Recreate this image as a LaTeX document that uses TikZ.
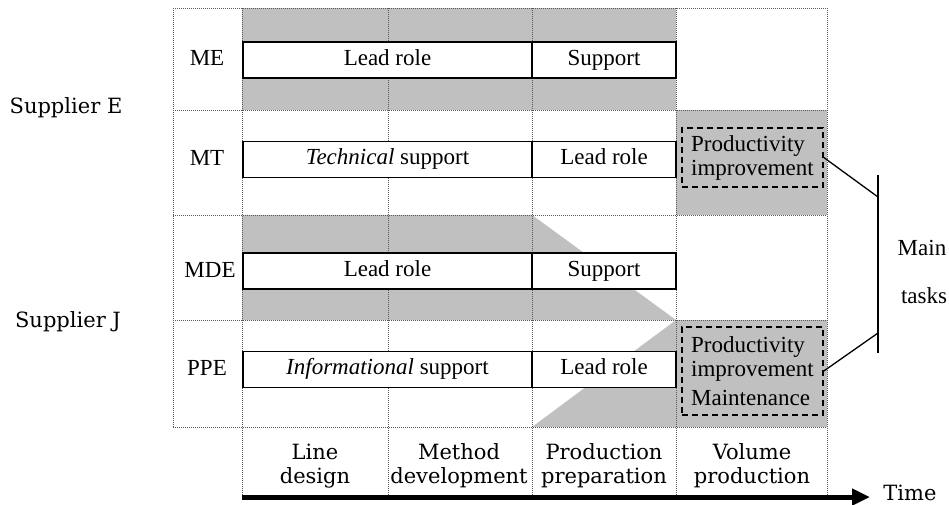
\documentclass[tikz,border=0pt]{standalone}
\usepackage{fontspec}
\setmainfont{Liberation Serif}
\newfontfamily\centuryfont{DejaVu Serif}
\usetikzlibrary{arrows.meta}

\begin{document}
\begin{tikzpicture}[x=1pt, y=-1pt,
    gridline/.style={black!65, densely dotted, line width=1pt},
    rolebox/.style={draw, fill=white, line width=1.7pt, minimum height=36pt, inner sep=0pt, text height=15pt, text depth=5pt, font=\fontsize{23}{24}\selectfont},
    taskbox/.style={draw, dashed, dash pattern=on 6pt off 4pt, line width=1.6pt, align=left, inner sep=0pt, minimum width=141pt, font=\fontsize{23}{24}\selectfont},
    rowlabel/.style={font=\fontsize{23}{24}\selectfont},
    phase/.style={font=\centuryfont\fontsize{21}{24}\selectfont, align=center}]
    % Define custom colors
    \definecolor{cellgray}{RGB}{192,192,192}

    \useasboundingbox (0,0) rectangle (949,504);

    % Shaded areas
    \fill[cellgray] (242,8) rectangle (676,110);
    \fill[cellgray] (676,110) rectangle (827,215);
    \fill[cellgray] (242,215) -- (532,215) -- (676,320) -- (242,320) -- cycle;
    \fill[cellgray] (532,427) -- (676,320) -- (827,320) -- (827,427) -- cycle;

    % Dotted grid
    \foreach \y in {8,110,215,320,427}
        \draw[gridline] (173,\y) -- (827,\y);
    \draw[gridline] (173,8) -- (173,427);
    \foreach \x in {242,388,532,676,827}
        \draw[gridline] (\x,8) -- (\x,497);

    % ME
    \node[rowlabel] (me) at (207,58) {ME};
    \node[rolebox, minimum width=289pt] (melead) at (387.5,60) {Lead role};
    \node[rolebox, minimum width=144pt] (mesupport) at (604,60) {Support};

    % MT
    \node[rowlabel] (mt) at (207,158) {MT};
    \node[rolebox, minimum width=289pt] (mtsupport) at (387.5,159.5) {\textit{Technical} support};
    \node[rolebox, minimum width=144pt] (mtlead) at (604,159.5) {Lead role};
    \node[taskbox, minimum height=59pt] (mttask) at (752.5,157.5) {Productivity\\improvement};

    % MDE
    \node[rowlabel] (mde) at (210,270) {MDE};
    \node[rolebox, minimum width=289pt] (mdelead) at (387.5,271) {Lead role};
    \node[rolebox, minimum width=144pt] (mdesupport) at (604,271) {Support};

    % PPE
    \node[rowlabel] (ppe) at (207,368) {PPE};
    \node[rolebox, minimum width=289pt] (ppesupport) at (387.5,369.5) {\textit{Informational} support};
    \node[rolebox, minimum width=144pt] (ppelead) at (604,369.5) {Lead role};
    \node[taskbox, minimum height=88pt] (ppetask) at (752.5,371) {Productivity\\improvement\\[5pt]Maintenance};

    % Suppliers
    \node[phase] (suppliere) at (66,108) {Supplier E};
    \node[phase] (supplierj) at (68,322) {Supplier J};

    % Main tasks bracket
    \coordinate (btop) at (878,175);
    \coordinate (bbot) at (878,353);
    \coordinate (bup) at (878,197);
    \coordinate (bdown) at (878,333);
    \draw[line width=1.6pt] (btop) -- (bbot);
    \draw[line width=1.3pt] (mttask.east) -- (bup);
    \draw[line width=1.3pt] (ppetask.east) -- (bdown);
    \node[rowlabel, inner sep=1pt] (mainlbl) at (922,248) {Main};
    \node[rowlabel, inner sep=1pt] (taskslbl) at (924,296) {tasks};

    % Phases
    \node[phase] (linedesign) at (315,466) {Line\\design};
    \node[phase] (methoddev) at (459,466) {Method\\development};
    \node[phase] (prodprep) at (604,466) {Production\\preparation};
    \node[phase] (volprod) at (752,466) {Volume\\production};

    % Time axis
    \coordinate (tstart) at (242,497);
    \coordinate (tend) at (870,497);
    \draw[line width=5pt, -{Triangle[length=18pt, width=16pt]}] (tstart) -- (tend);
    \node[phase, inner sep=1pt] (timelbl) at (910,493) {Time};
\end{tikzpicture}
\end{document}
